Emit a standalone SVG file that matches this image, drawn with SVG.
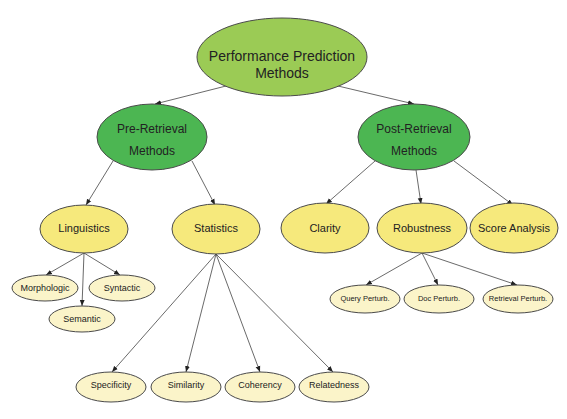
<svg xmlns="http://www.w3.org/2000/svg" width="567" height="419" viewBox="0 0 567 419">
<defs>
<style>
.n{stroke:#4a4a4a;stroke-width:1}
.g1{fill:#9bcb55}
.g2{fill:#4cb652}
.y1{fill:#f6e97c}
.y2{fill:#fbf4c9}
text{font-family:"Liberation Sans",Arial,sans-serif;fill:#222;text-anchor:middle;dominant-baseline:central}
.c line{stroke:#444;stroke-width:0.8;marker-end:url(#a)}
</style>
<marker id="a" viewBox="0 0 10 10" refX="10" refY="5" markerWidth="6" markerHeight="6" orient="auto" markerUnits="userSpaceOnUse">
<path d="M0,1 L10,5 L0,9 z" fill="#222"/>
</marker>
</defs>
<rect width="567" height="419" fill="#fff"/>
<g class="c">
<line x1="226" y1="86" x2="155" y2="104"/>
<line x1="338" y1="86" x2="414" y2="104"/>
<line x1="113" y1="161" x2="86" y2="205"/>
<line x1="192" y1="161" x2="215" y2="205"/>
<line x1="375" y1="161" x2="326" y2="204"/>
<line x1="416" y1="170" x2="421" y2="204"/>
<line x1="454" y1="161" x2="513" y2="205"/>
<line x1="84" y1="253" x2="46" y2="275"/>
<line x1="84" y1="253" x2="120" y2="275"/>
<line x1="84" y1="253" x2="82" y2="306"/>
<line x1="216" y1="254" x2="112" y2="372"/>
<line x1="216" y1="254" x2="186" y2="372"/>
<line x1="216" y1="254" x2="260" y2="372"/>
<line x1="216" y1="254" x2="333" y2="372"/>
<line x1="422" y1="253" x2="366" y2="285"/>
<line x1="422" y1="253" x2="438" y2="285"/>
<line x1="422" y1="253" x2="517" y2="285"/>
</g>
<g id="root"><ellipse class="n g1" cx="282" cy="57" rx="85" ry="39"/><text x="282" y="56" font-size="14">Performance Prediction</text><text x="282" y="73" font-size="14">Methods</text></g>
<g id="pre"><ellipse class="n g2" cx="152" cy="137" rx="55" ry="33"/><text x="152" y="129" font-size="12">Pre-Retrieval</text><text x="152" y="151" font-size="12">Methods</text></g>
<g id="post"><ellipse class="n g2" cx="414" cy="137" rx="56" ry="33"/><text x="414" y="129" font-size="12">Post-Retrieval</text><text x="414" y="151" font-size="12">Methods</text></g>
<g id="linguistics"><ellipse class="n y1" cx="84" cy="229" rx="44" ry="24"/><text x="84" y="228" font-size="11">Linguistics</text></g>
<g id="statistics"><ellipse class="n y1" cx="216" cy="229" rx="44" ry="25"/><text x="216" y="228" font-size="11">Statistics</text></g>
<g id="clarity"><ellipse class="n y1" cx="325" cy="228" rx="44" ry="25"/><text x="325" y="228" font-size="11">Clarity</text></g>
<g id="robustness"><ellipse class="n y1" cx="422" cy="228" rx="45" ry="25"/><text x="422" y="228" font-size="11">Robustness</text></g>
<g id="score"><ellipse class="n y1" cx="514" cy="228" rx="44" ry="25"/><text x="514" y="228" font-size="11">Score Analysis</text></g>
<g id="morphologic"><ellipse class="n y2" cx="45" cy="288" rx="33" ry="13"/><text x="45" y="288" font-size="9">Morphologic</text></g>
<g id="syntactic"><ellipse class="n y2" cx="122" cy="288" rx="33" ry="13"/><text x="122" y="288" font-size="9">Syntactic</text></g>
<g id="semantic"><ellipse class="n y2" cx="82" cy="319" rx="33" ry="13"/><text x="82" y="319" font-size="9">Semantic</text></g>
<g id="query"><ellipse class="n y2" cx="365" cy="299" rx="35" ry="14"/><text x="365" y="298" font-size="7.5">Query Perturb.</text></g>
<g id="doc"><ellipse class="n y2" cx="439" cy="299" rx="35" ry="14"/><text x="439" y="298" font-size="7.5">Doc Perturb.</text></g>
<g id="retrieval"><ellipse class="n y2" cx="518" cy="299" rx="35" ry="14"/><text x="518" y="298" font-size="7.5">Retrieval Perturb.</text></g>
<g id="specificity"><ellipse class="n y2" cx="111" cy="387" rx="35" ry="15"/><text x="111" y="385" font-size="9">Specificity</text></g>
<g id="similarity"><ellipse class="n y2" cx="186" cy="387" rx="35" ry="15"/><text x="186" y="385" font-size="9">Similarity</text></g>
<g id="coherency"><ellipse class="n y2" cx="260" cy="387" rx="35" ry="15"/><text x="260" y="385" font-size="9">Coherency</text></g>
<g id="relatedness"><ellipse class="n y2" cx="334" cy="387" rx="35" ry="15"/><text x="334" y="385" font-size="9">Relatedness</text></g>
</svg>
